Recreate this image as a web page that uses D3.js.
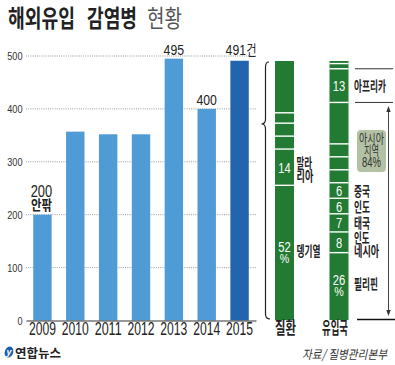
<!DOCTYPE html>
<html><head><meta charset="utf-8">
<script src="https://cdn.jsdelivr.net/npm/d3@7"></script>
<style>
html,body{margin:0;padding:0;background:#fff;}
svg{display:block;}
</style></head><body>
<svg id="chart" width="395" height="365"></svg>
<script>
// ---- data ----
const years = ['2009','2010','2011','2012','2013','2014','2015'];
const cases = [200, 357, 352, 352, 495, 400, 491];
const valueLabels = ['200', '', '', '', '495', '400', '491'];
const valueNotes = ['안팎', '', '', '', '', '', '건'];
const yTicks = [0, 100, 200, 300, 400, 500];
// stacked shares, bottom to top
const diseaseShares = [52, 14, 5, 5, 4, 20];
const diseaseValueText = ['52', '14', '', '', '', ''];
const diseaseNames = [['뎅기열'], ['말라', '리아'], [], [], [], []];
const originShares = [26, 8, 7, 6, 6, 5, 5, 5, 16, 13, 2, 1];
const originValueText = ['26', '8', '7', '6', '6', '', '', '', '', '13', '', ''];
const originNames = [['필리핀'], ['인도', '네시아'], ['태국'], ['인도'], ['중국'], [], [], [], [], ['아프리카'], [], []];
const columns = ['질환', '유입국'];
const asiaShare = 84;
const titleBold = ['해외유입', '감염병'];
const titleLight = '현황';
const source = '자료/ 질병관리본부';
const brand = '연합뉴스';

// ---- drawing ----
const KR = "'Noto Sans CJK KR', 'Noto Sans', sans-serif";
const NUM = "'Liberation Sans Narrow', 'Liberation Sans', Arial, sans-serif";
const svg = d3.select('#chart');

// text squeezed horizontally to a target width via a scale transform
function txt(g, s, x, y, o) {
  const t = g.append('text').text(s)
    .attr('font-family', o.family || NUM).attr('font-size', o.size)
    .attr('fill', o.fill || '#222').attr('text-anchor', o.anchor || 'middle')
    .attr('transform', `translate(${x},${y})`);
  if (o.weight) t.attr('font-weight', o.weight);
  if (o.style) t.attr('font-style', o.style);
  if (o.w) {
    const n = t.node().getComputedTextLength();
    if (n > 0) t.attr('transform', `translate(${x},${y}) scale(${(o.w / n).toFixed(4)},1)`);
  }
  return t;
}
function squeeze(sel, wFn) {
  sel.each(function(d) {
    const n = this.getComputedTextLength();
    if (n > 0) d3.select(this).attr('transform', `scale(${(wFn(d) / n).toFixed(4)},1)`);
  });
}

// title
txt(svg, titleBold[0], 8, 27, {family: KR, size: 23.5, weight: 700, w: 67, anchor: 'start', fill: '#222'});
txt(svg, titleBold[1], 87, 27, {family: KR, size: 23.5, weight: 700, w: 50, anchor: 'start', fill: '#222'});
txt(svg, titleLight, 147, 27, {family: KR, size: 23.5, weight: 400, w: 35, anchor: 'start', fill: '#555'});

// scales
const x = d3.scaleBand().domain(years).range([26, 256]).paddingInner(0.44).paddingOuter(0.22);
const y = d3.scaleLinear().domain([0, 500]).range([320.5, 56]);

// grid
svg.append('g').selectAll('line').data(yTicks.filter(t => t > 0)).join('line')
  .attr('x1', 26).attr('x2', 257).attr('y1', d => y(d)).attr('y2', d => y(d))
  .attr('stroke', '#9a9a9a').attr('stroke-width', 1).attr('stroke-dasharray', '1 1.2');

// y axis
const yAx = svg.append('g').attr('transform', 'translate(22.5,0)')
  .call(d3.axisLeft(y).tickValues(yTicks).tickSize(0).tickPadding(0));
yAx.select('.domain').remove();
yAx.selectAll('text').attr('font-family', NUM).attr('font-size', 11).attr('fill', '#333');
squeeze(yAx.selectAll('text'), d => String(d).length * 5.1);

// bars
svg.append('g').selectAll('rect').data(cases).join('rect')
  .attr('x', (d, i) => x(years[i])).attr('width', x.bandwidth())
  .attr('y', d => y(d)).attr('height', d => y(0) - y(d))
  .attr('fill', (d, i) => i === years.length - 1 ? '#2264ad' : '#4f9bd5');

// x axis
const xAx = svg.append('g').attr('transform', `translate(0,${y(0)})`)
  .call(d3.axisBottom(x).tickSize(0).tickSizeOuter(0).tickPadding(0));
xAx.select('.domain').attr('stroke', '#333').attr('stroke-width', 1);
xAx.selectAll('text').attr('y', 14.5).attr('dy', 0)
  .attr('font-family', NUM).attr('font-size', 17.5).attr('fill', '#222');
squeeze(xAx.selectAll('text'), () => 27);

// value labels
cases.forEach((v, i) => {
  const lab = valueLabels[i]; if (!lab) return;
  const cx = x(years[i]) + x.bandwidth() / 2;
  const note = valueNotes[i];
  if (note && i === 0) {
    txt(svg, lab, cx - 1, y(v) - 18, {size: 16, w: 21.5});
    txt(svg, note, cx - 1, y(v) - 4.5, {family: KR, size: 14, w: 21, weight: 700});
  } else if (note) {
    txt(svg, lab, cx - 14, y(v) - 5.5, {size: 15.5, w: 20.5, anchor: 'start'});
    txt(svg, note, cx + 7, y(v) - 5.5, {family: KR, size: 14, w: 10, anchor: 'start'});
  } else {
    txt(svg, lab, cx, y(v) - 4, {size: 15.5, w: 20.5});
  }
});

// ---- right panel ----
const ys = d3.scaleLinear().domain([0, 100]).range([320, 61]);
const cx = d3.scaleBand().domain(columns).range([275, 348.5]).paddingInner(0.6514).paddingOuter(0);
const GREEN = '#227a33';

function stackCol(shares, values, names, col, nameX) {
  const g = svg.append('g');
  const x0 = cx(col), bw = cx.bandwidth(), mid = x0 + bw / 2;
  let cum = 0;
  const segs = shares.map(s => { const o = {a: cum, b: cum + s}; cum += s; return o; });
  g.selectAll('rect').data(segs).join('rect')
    .attr('x', x0).attr('width', bw)
    .attr('y', d => ys(d.b)).attr('height', d => ys(d.a) - ys(d.b))
    .attr('fill', GREEN);
  g.selectAll('line').data(segs.slice(1)).join('line')
    .attr('x1', x0).attr('x2', x0 + bw).attr('y1', d => ys(d.a)).attr('y2', d => ys(d.a))
    .attr('stroke', '#fff').attr('stroke-width', 1.4);
  segs.forEach((d, i) => {
    const c = (ys(d.a) + ys(d.b)) / 2;
    const v = values[i];
    if (v) {
      if (v.length === 2 && shares[i] >= 20) {
        txt(g, v, mid, c - 1, {size: 15.5, w: 12.5, fill: '#fff'});
        txt(g, '%', mid, c + 10, {size: 13.5, w: 9.5, fill: '#fff'});
      } else {
        txt(g, v, mid, c + 5.5, {size: 15.5, w: v.length * 6.2, fill: '#fff'});
      }
    }
    const nm = names[i];
    const o = {family: KR, size: 13.5, anchor: 'start', fill: '#222', weight: 700};
    if (nm.length === 1) {
      txt(g, nm[0], nameX, c + (shares[i] >= 20 ? 3 : 5.5), Object.assign({}, o, {w: nm[0].length * 8}));
    } else if (nm.length === 2) {
      txt(g, nm[0], nameX, c + 0.5, Object.assign({}, o, {w: nm[0].length * 7.8}));
      txt(g, nm[1], nameX, c + 14, Object.assign({}, o, {w: nm[1].length * 8.4}));
    }
  });
  return segs;
}

stackCol(diseaseShares, diseaseValueText, diseaseNames, columns[0], 296.5);
const oSegs = stackCol(originShares, originValueText, originNames, columns[1], 354);

// column labels
txt(svg, columns[0], cx(columns[0]) + cx.bandwidth() / 2 + 1, 334, {family: KR, size: 17, w: 21, weight: 700});
txt(svg, columns[1], cx(columns[1]) + cx.bandwidth() / 2 - 4, 334, {family: KR, size: 17, w: 26, weight: 700});

// brace
const bTop = ys(100) + 1, bBot = ys(0) - 1, bMid = 124;
svg.append('path')
  .attr('d', `M269,${bTop} Q265.5,${bTop} 265.5,${bTop + 5} L265.5,${bMid - 5} Q265.5,${bMid} 261.5,${bMid} Q265.5,${bMid} 265.5,${bMid + 5} L265.5,${bBot - 5} Q265.5,${bBot} 270,${bBot}`)
  .attr('fill', 'none').attr('stroke', '#222').attr('stroke-width', 1.2);

// Africa bracket lines
const afr = oSegs[9];
[afr.a, afr.b].forEach(v => {
  svg.append('line').attr('x1', 355).attr('x2', 393).attr('y1', ys(v)).attr('y2', ys(v))
    .attr('stroke', '#333').attr('stroke-width', 1);
});

// Asia arrow
const ax = 388.5, aTop = ys(asiaShare) + 3.5, aBot = ys(0) - 4;
svg.append('line').attr('x1', ax).attr('x2', ax).attr('y1', aTop + 4).attr('y2', aBot - 4)
  .attr('stroke', '#444').attr('stroke-width', 1);
svg.append('path').attr('d', `M${ax},${aTop} L${ax - 2.2},${aTop + 6} L${ax + 2.2},${aTop + 6} Z`).attr('fill', '#333');
svg.append('path').attr('d', `M${ax},${aBot} L${ax - 2.2},${aBot - 6} L${ax + 2.2},${aBot - 6} Z`).attr('fill', '#333');
// base line
svg.append('line').attr('x1', 357).attr('x2', 395).attr('y1', 319.5).attr('y2', 319.5)
  .attr('stroke', '#111').attr('stroke-width', 1.5);

// Asia box
svg.append('rect').attr('x', 357).attr('y', 130).attr('width', 29).attr('height', 42).attr('rx', 4)
  .attr('fill', '#b3c2a5');
txt(svg, '아시아', 371.5, 143, {family: KR, size: 13, w: 25, fill: '#333'});
txt(svg, '지역', 371.5, 155, {family: KR, size: 13, w: 15, fill: '#333'});
txt(svg, asiaShare + '%', 371.5, 166.5, {size: 14, w: 19, fill: '#333'});

// footer
svg.append('ellipse').attr('cx', 9).attr('cy', 352).attr('rx', 4.2).attr('ry', 5.6)
  .attr('transform', 'rotate(20,9,352)').attr('fill', '#1d5fae');
txt(svg, 'y', 9, 355, {size: 9, fill: '#fff', weight: 700, style: 'italic'});
txt(svg, brand, 15, 357.5, {family: KR, size: 12.5, w: 46, weight: 700, anchor: 'start', fill: '#222'});
txt(svg, source, 387, 358.5, {family: KR, size: 12.5, w: 85, anchor: 'end', fill: '#333', style: 'italic'});
</script>
</body></html>
